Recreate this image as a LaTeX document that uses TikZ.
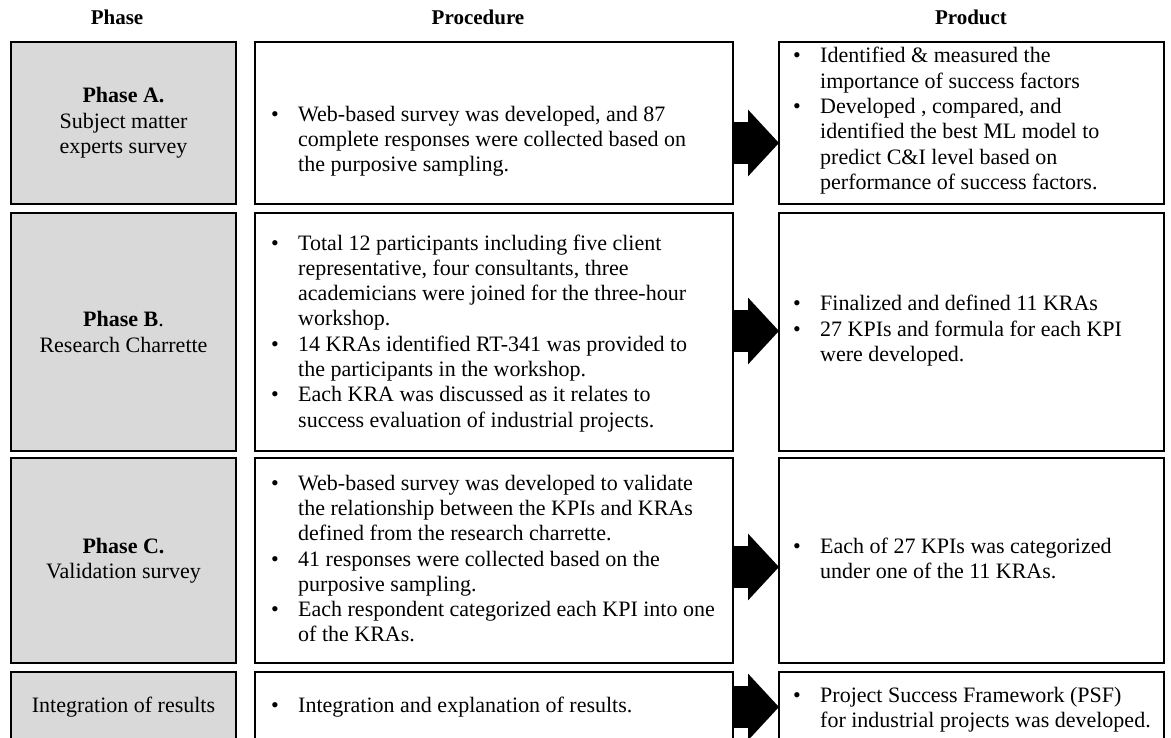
\documentclass[tikz,border=0pt]{standalone}
\usepackage{fontspec}
\setmainfont{Liberation Serif}
\usepackage{tikz}
\usetikzlibrary{positioning, arrows.meta}
\definecolor{phasegray}{RGB}{217,217,217}
\tikzstyle{phasebox} = [rectangle, draw=black, line width=2.2pt, fill=phasegray, minimum width=225pt, align=center, inner sep=0pt, outer sep=0pt]
\tikzstyle{procbox} = [rectangle, draw=black, line width=2.2pt, minimum width=478pt, inner sep=0pt, outer sep=0pt]
\tikzstyle{prodbox} = [rectangle, draw=black, line width=2.2pt, minimum width=385pt, inner sep=0pt, outer sep=0pt]
\tikzstyle{txt} = [inner sep=0pt, anchor=west]
\tikzstyle{head} = [font=\fontsize{21}{25}\selectfont\bfseries]
\tikzstyle{bigarrow} = [line width=42pt, -{Triangle[length=31pt,width=65pt]}]
\newcommand{\bullist}[1]{\begin{tabular}{@{}p{27pt}@{}l@{}}#1\end{tabular}}

\begin{document}
\begin{tikzpicture}[x=1pt, y=-1pt, font=\fontsize{22}{25.3}\selectfont]
		\useasboundingbox (0,0) rectangle (1171,737);
		%column heads
		\node (hPhase) [head] at (117,17) {Phase};
		\node (hProc) [head] at (478,17) {Procedure};
		\node (hProd) [head] at (971,17) {Product};
		
		%phase boxes
		\node (phA) [phasebox, minimum height=162pt] at (123.5,123) {\textbf{Phase A.}\\Subject matter\\experts survey};
		\node (phB) [phasebox, minimum height=238pt, below=9pt of phA] {\textbf{Phase B}.\\Research Charrette};
		\node (phC) [phasebox, minimum height=205pt, below=7pt of phB] {\textbf{Phase C.}\\Validation survey};
		\node (phD) [phasebox, minimum height=70pt, below=9pt of phC] {Integration of results};
		
		%procedure boxes
		\node (prA) [procbox, minimum height=162pt, right=19pt of phA] {};
		\node (prB) [procbox, minimum height=238pt, right=19pt of phB] {};
		\node (prC) [procbox, minimum height=205pt, right=19pt of phC] {};
		\node (prD) [procbox, minimum height=70pt, right=19pt of phD] {};
		
		%product boxes
		\node (pdA) [prodbox, minimum height=162pt, right=46pt of prA] {};
		\node (pdB) [prodbox, minimum height=238pt, right=46pt of prB] {};
		\node (pdC) [prodbox, minimum height=205pt, right=46pt of prC] {};
		\node (pdD) [prodbox, minimum height=70pt, right=46pt of prD] {};
		
		%procedure texts
		\node (tprA) [txt] at (271,141.5) {\bullist{\textbullet & Web-based survey was developed, and 87\\
			& complete responses were collected based on\\
			& the purposive sampling.}};
		\node (tprB) [txt] at (271,333.5) {\bullist{\textbullet & Total 12 participants including five client\\
			& representative, four consultants, three\\
			& academicians were joined for the three-hour\\
			& workshop.\\
			\textbullet & 14 KRAs identified RT-341 was provided to\\
			& the participants in the workshop.\\
			\textbullet & Each KRA was discussed as it relates to\\
			& success evaluation of industrial projects.}};
		\node (tprC) [txt] at (271,561) {\bullist{\textbullet & Web-based survey was developed to validate\\
			& the relationship between the KPIs and KRAs\\
			& defined from the research charrette.\\
			\textbullet & 41 responses were collected based on the\\
			& purposive sampling.\\
			\textbullet & Each respondent categorized each KPI into one\\
			& of the KRAs.}};
		\node (tprD) [txt] at (271,707) {\bullist{\textbullet & Integration and explanation of results.}};
		
		%product texts
		\node (tpdA) [txt] at (793,121) {\bullist{\textbullet & Identified \& measured the\\
			& importance of success factors\\
			\textbullet & Developed , compared, and\\
			& identified the best ML model to\\
			& predict C\&I level based on\\
			& performance of success factors.}};
		\node (tpdB) [txt] at (793,331) {\bullist{\textbullet & Finalized and defined 11 KRAs\\
			\textbullet & 27 KPIs and formula for each KPI\\
			& were developed.}};
		\node (tpdC) [txt] at (793,561) {\bullist{\textbullet & Each of 27 KPIs was categorized\\
			& under one of the 11 KRAs.}};
		\node (tpdD) [txt] at (793,710) {\bullist{\textbullet & Project Success Framework (PSF)\\
			& for industrial projects was developed.}};
		
		%block arrows
		\draw [bigarrow] ([yshift=-1.5pt]prA.east |- tprA) -- ([yshift=-1.5pt]pdA.west |- tprA);
		\draw [bigarrow] (prB.east |- tpdB) -- (pdB.west |- tpdB);
		\draw [bigarrow] ([yshift=-6pt]prC.east |- tprC) -- ([yshift=-6pt]pdC.west |- tprC);
		\draw [bigarrow] (prD.east |- tprD) -- (pdD.west |- tprD);
		
	\end{tikzpicture}
\end{document}
